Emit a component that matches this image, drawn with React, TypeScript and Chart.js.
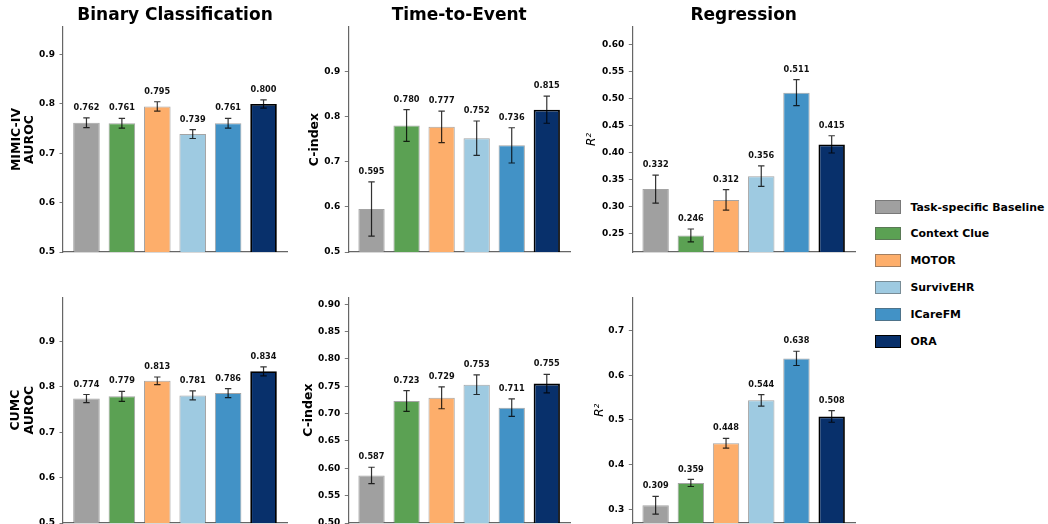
import React, { useEffect, useRef } from "react";
import { Chart, registerables } from "chart.js";
Chart.register(...registerables);

const methods = ["Task-specific Baseline", "Context Clue", "MOTOR", "SurvivEHR", "ICareFM", "ORA"];
const barColors = ["#a0a0a0", "#5ba153", "#fdae6b", "#9ecae1", "#4292c6", "#08306b"];
const edgeColors = ["rgba(90,90,90,0.55)", "rgba(90,90,90,0.55)", "rgba(90,90,90,0.55)", "rgba(90,90,90,0.55)", "rgba(90,90,90,0.55)", "#000000"];
const edgeWidths = [1, 1, 1, 1, 1, 1.8];
const taskTitles = ["Binary Classification", "Time-to-Event", "Regression"];

const mimicBinary = [0.762, 0.761, 0.795, 0.739, 0.761, 0.8];
const mimicBinaryErr = [0.01, 0.01, 0.0095, 0.009, 0.01, 0.0085];
const mimicTTE = [0.595, 0.78, 0.777, 0.752, 0.736, 0.815];
const mimicTTEErr = [0.06, 0.035, 0.035, 0.038, 0.039, 0.03];
const mimicReg = [0.332, 0.246, 0.312, 0.356, 0.511, 0.415];
const mimicRegErr = [0.026, 0.012, 0.019, 0.019, 0.024, 0.016];
const cumcBinary = [0.774, 0.779, 0.813, 0.781, 0.786, 0.834];
const cumcBinaryErr = [0.009, 0.011, 0.0085, 0.01, 0.01, 0.01];
const cumcTTE = [0.587, 0.723, 0.729, 0.753, 0.711, 0.755];
const cumcTTEErr = [0.015, 0.019, 0.02, 0.018, 0.016, 0.017];
const cumcReg = [0.309, 0.359, 0.448, 0.544, 0.638, 0.508];
const cumcRegErr = [0.02, 0.008, 0.011, 0.013, 0.016, 0.013];

const ticksMimicBinary = [0.5, 0.6, 0.7, 0.8, 0.9];
const ticksMimicTTE = [0.5, 0.6, 0.7, 0.8, 0.9];
const ticksMimicReg = [0.25, 0.3, 0.35, 0.4, 0.45, 0.5, 0.55, 0.6];
const ticksCumcBinary = [0.5, 0.6, 0.7, 0.8, 0.9];
const ticksCumcTTE = [0.5, 0.55, 0.6, 0.65, 0.7, 0.75, 0.8, 0.85, 0.9];
const ticksCumcReg = [0.3, 0.4, 0.5, 0.6, 0.7];

const rangeMimicBinary = [0.5, 0.956];
const rangeMimicTTE = [0.5, 0.998];
const rangeMimicReg = [0.2153, 0.6328];
const rangeCumcBinary = [0.5, 0.997];
const rangeCumcTTE = [0.5, 0.9128];
const rangeCumcReg = [0.2693, 0.7748];

const FONT = "'DejaVu Sans', sans-serif";

const errorBarPlugin = {
  id: "errorBars",
  afterDatasetsDraw(chart: any) {
    const opts = chart.options.plugins.errorBars;
    if (!opts) return;
    const { values, errs } = opts;
    const xs = chart.scales.x;
    const ys = chart.scales.y;
    const ctx = chart.ctx;
    ctx.save();
    for (let i = 0; i < values.length; i++) {
      const x = xs.getPixelForValue(i);
      const yTop = ys.getPixelForValue(values[i] + errs[i]);
      const yBot = ys.getPixelForValue(values[i] - errs[i]);
      ctx.strokeStyle = "rgba(0,0,0,0.8)";
      ctx.lineWidth = 1.2;
      ctx.beginPath();
      ctx.moveTo(x, yTop);
      ctx.lineTo(x, yBot);
      ctx.moveTo(x - 3.2, yTop);
      ctx.lineTo(x + 3.2, yTop);
      ctx.moveTo(x - 3.2, yBot);
      ctx.lineTo(x + 3.2, yBot);
      ctx.stroke();
      ctx.fillStyle = "#111";
      ctx.font = `bold 8.2px ${FONT}`;
      ctx.textAlign = "center";
      ctx.textBaseline = "middle";
      ctx.fillText(values[i].toFixed(3), x, yTop - 10);
    }
    ctx.restore();
  },
};

type PanelProps = {
  left: number;
  top: number;
  width: number;
  height: number;
  axisWidth: number;
  padTop: number;
  padRight: number;
  xAxisHeight: number;
  values: number[];
  errs: number[];
  ticks: number[];
  decimals: number;
  range: number[];
  yTitle: string | string[];
  yTitleItalic?: boolean;
  yTitlePad: number;
  title?: string;
};

function Panel(p: PanelProps) {
  const ref = useRef<HTMLCanvasElement>(null);
  useEffect(() => {
    const ctx = ref.current!.getContext("2d")!;
    const chart = new Chart(ctx, {
      type: "bar",
      data: {
        datasets: [
          {
            data: p.values.map((v, i) => ({ x: i, y: v })),
            backgroundColor: barColors,
            borderColor: edgeColors,
            borderWidth: edgeWidths,
            borderSkipped: "start",
            categoryPercentage: 1,
            barPercentage: 0.75,
          } as any,
        ],
      },
      options: {
        animation: false,
        responsive: false,
        maintainAspectRatio: false,
        layout: { padding: { top: p.padTop, right: p.padRight, left: 0, bottom: 0 } },
        plugins: {
          legend: { display: false },
          tooltip: { enabled: false },
          title: p.title
            ? {
                display: true,
                fullSize: false,
                text: p.title,
                color: "#000",
                font: { family: FONT, size: 17, weight: "bold", lineHeight: 1.2 },
                padding: { top: 5, bottom: 1.6 },
              }
            : { display: false },
          errorBars: { values: p.values, errs: p.errs },
        } as any,
        scales: {
          x: {
            type: "linear",
            min: -0.6625,
            max: 5.6625,
            offset: false,
            ticks: { display: false },
            grid: { display: false, drawTicks: false },
            border: { display: true, color: "#666", width: 1.2 },
            afterFit: (s: any) => {
              s.height = p.xAxisHeight;
            },
          },
          y: {
            min: p.range[0],
            max: p.range[1],
            afterBuildTicks: (s: any) => {
              s.ticks = p.ticks.map((v) => ({ value: v }));
            },
            afterFit: (s: any) => {
              s.width = p.axisWidth;
            },
            ticks: {
              color: "#000",
              padding: 4.5,
              font: { family: FONT, size: 9, weight: "bold" },
              callback: (v: any) => Number(v).toFixed(p.decimals),
            },
            grid: { display: true, drawOnChartArea: false, drawTicks: true, tickLength: 3.5, color: "#555", lineWidth: 0.8 },
            border: { display: true, color: "#666", width: 1.2 },
            title: {
              display: true,
              text: p.yTitle,
              color: "#000",
              font: p.yTitleItalic
                ? { family: FONT, size: 12, style: "italic", weight: "normal", lineHeight: 1.07 }
                : { family: FONT, size: 12.5, weight: "bold", lineHeight: 1.07 },
              padding: { top: p.yTitlePad, bottom: 0 },
            },
          },
        },
      } as any,
      plugins: [errorBarPlugin],
    });
    return () => chart.destroy();
  }, []);
  return (
    <canvas
      ref={ref}
      width={p.width}
      height={p.height}
      style={{ position: "absolute", left: p.left, top: p.top, width: p.width, height: p.height }}
    />
  );
}

function Legend() {
  return (
    <div style={{ position: "absolute", left: 875, top: 200 }}>
      {methods.map((m, i) => (
        <div key={m} style={{ position: "absolute", left: 0, top: i * 26.9, height: 15, width: 180, whiteSpace: "nowrap" }}>
          <div
            style={{
              position: "absolute",
              left: 0,
              top: 0,
              width: 26,
              height: 13.5,
              background: barColors[i],
              border: i === 5 ? "1.3px solid #000" : "1px solid rgba(90,90,90,0.55)",
              boxSizing: "border-box",
            }}
          />
          <div
            style={{
              position: "absolute",
              left: 35.5,
              top: -0.5,
              fontFamily: FONT,
              fontWeight: "bold",
              fontSize: 10.9,
              lineHeight: "15px",
              color: "#000",
            }}
          >
            {m}
          </div>
        </div>
      ))}
    </div>
  );
}

export default function App() {
  return (
    <div style={{ position: "fixed", left: 0, top: 0, width: 1048, height: 524, overflow: "hidden", background: "#fff" }}>
      <Panel left={0} top={0} width={290} height={270} axisWidth={63} padTop={0} padRight={3} xAxisHeight={18}
        values={mimicBinary} errs={mimicBinaryErr} ticks={ticksMimicBinary} decimals={1} range={rangeMimicBinary}
        yTitle={["MIMIC-IV", "AUROC"]} yTitlePad={10} title={taskTitles[0]} />
      <Panel left={290} top={0} width={285} height={270} axisWidth={58.3} padTop={0} padRight={5} xAxisHeight={18}
        values={mimicTTE} errs={mimicTTEErr} ticks={ticksMimicTTE} decimals={1} range={rangeMimicTTE}
        yTitle={"C-index"} yTitlePad={18.5} title={taskTitles[1]} />
      <Panel left={575} top={0} width={285} height={270} axisWidth={57.3} padTop={0} padRight={5} xAxisHeight={18}
        values={mimicReg} errs={mimicRegErr} ticks={ticksMimicReg} decimals={2} range={rangeMimicReg}
        yTitle={"R²"} yTitleItalic yTitlePad={10} title={taskTitles[2]} />
      <Panel left={0} top={270} width={290} height={270} axisWidth={63} padTop={27.3} padRight={3} xAxisHeight={17}
        values={cumcBinary} errs={cumcBinaryErr} ticks={ticksCumcBinary} decimals={1} range={rangeCumcBinary}
        yTitle={["CUMC", "AUROC"]} yTitlePad={9.5} />
      <Panel left={290} top={270} width={285} height={270} axisWidth={58.3} padTop={27.3} padRight={5} xAxisHeight={17}
        values={cumcTTE} errs={cumcTTEErr} ticks={ticksCumcTTE} decimals={2} range={rangeCumcTTE}
        yTitle={"C-index"} yTitlePad={12} />
      <Panel left={575} top={270} width={285} height={270} axisWidth={57.3} padTop={27.3} padRight={5} xAxisHeight={17}
        values={cumcReg} errs={cumcRegErr} ticks={ticksCumcReg} decimals={1} range={rangeCumcReg}
        yTitle={"R²"} yTitleItalic yTitlePad={18} />
      <Legend />
    </div>
  );
}
